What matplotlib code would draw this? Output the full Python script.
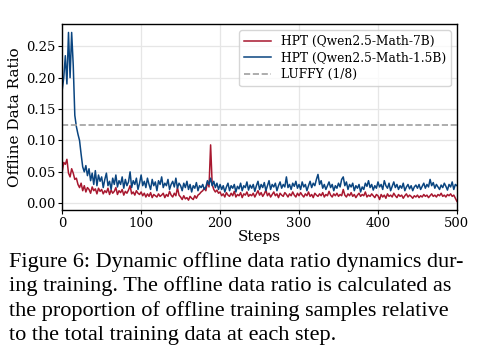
import numpy as np
import matplotlib.pyplot as plt

# offline data ratio, read every 2 steps (0..500)
steps = np.arange(0, 501, 2)

ratio_15b = [
    0.180, 0.200, 0.235, 0.190, 0.272, 0.200, 0.272, 0.220, 0.140, 0.122, 0.110, 0.100, 0.078,
    0.058, 0.050, 0.060, 0.044, 0.055, 0.036, 0.048, 0.030, 0.052, 0.028, 0.045, 0.035,
    0.042, 0.025, 0.038, 0.048, 0.028, 0.035, 0.022, 0.040, 0.030, 0.045, 0.026, 0.036, 0.030,
    0.042, 0.024, 0.038, 0.028, 0.034, 0.050, 0.025, 0.036, 0.030, 0.040, 0.022, 0.032,
    0.045, 0.028, 0.035, 0.025, 0.040, 0.030, 0.022, 0.038, 0.028, 0.034, 0.020, 0.036, 0.030,
    0.042, 0.025, 0.032, 0.028, 0.038, 0.022, 0.030, 0.035, 0.026, 0.040, 0.024, 0.032,
    0.028, 0.020, 0.032, 0.025, 0.035, 0.022, 0.030, 0.018, 0.028, 0.024, 0.033, 0.020, 0.028,
    0.025, 0.030, 0.022, 0.026, 0.036, 0.030, 0.040, 0.028, 0.035, 0.025, 0.032, 0.022,
    0.030, 0.022, 0.028, 0.018, 0.026, 0.032, 0.020, 0.028, 0.024, 0.030, 0.018, 0.027, 0.023,
    0.032, 0.020, 0.028, 0.025, 0.034, 0.021, 0.029, 0.024, 0.030, 0.019, 0.028, 0.035,
    0.022, 0.030, 0.025, 0.033, 0.020, 0.028, 0.036, 0.022, 0.030, 0.026, 0.032, 0.020, 0.028,
    0.034, 0.024, 0.030, 0.026, 0.042, 0.025, 0.030, 0.022, 0.032, 0.027, 0.035, 0.024,
    0.030, 0.022, 0.034, 0.026, 0.030, 0.020, 0.028, 0.035, 0.025, 0.032, 0.028, 0.038, 0.046,
    0.030, 0.036, 0.024, 0.030, 0.022, 0.028, 0.034, 0.025, 0.030, 0.020, 0.028, 0.024,
    0.032, 0.026, 0.038, 0.042, 0.028, 0.034, 0.022, 0.030, 0.026, 0.032, 0.020, 0.028, 0.024,
    0.030, 0.018, 0.026, 0.022, 0.032, 0.027, 0.036, 0.025, 0.030, 0.021, 0.028, 0.024,
    0.034, 0.026, 0.030, 0.022, 0.036, 0.028, 0.024, 0.032, 0.020, 0.027, 0.034, 0.025, 0.030,
    0.022, 0.028, 0.024, 0.032, 0.020, 0.026, 0.030, 0.023, 0.028, 0.020, 0.026, 0.029,
    0.024, 0.030, 0.022, 0.027, 0.032, 0.024, 0.030, 0.026, 0.038, 0.028, 0.033, 0.024, 0.030,
    0.026, 0.022, 0.029, 0.025, 0.032, 0.027, 0.021, 0.030, 0.026, 0.034, 0.022, 0.030, 0.028,
]

ratio_7b = [
    0.050, 0.065, 0.062, 0.070, 0.048, 0.042, 0.055, 0.048, 0.038, 0.040, 0.030, 0.025, 0.032,
    0.020, 0.028, 0.018, 0.025, 0.022, 0.016, 0.026, 0.020, 0.023, 0.015, 0.024, 0.019,
    0.022, 0.015, 0.020, 0.017, 0.024, 0.014, 0.021, 0.016, 0.019, 0.025, 0.014, 0.020, 0.017,
    0.022, 0.013, 0.019, 0.016, 0.021, 0.028, 0.015, 0.018, 0.013, 0.020, 0.016, 0.014,
    0.018, 0.012, 0.016, 0.010, 0.015, 0.011, 0.017, 0.009, 0.014, 0.012, 0.010, 0.015, 0.011,
    0.013, 0.016, 0.009, 0.014, 0.011, 0.019, 0.013, 0.010, 0.016, 0.012, 0.025, 0.013,
    0.010, 0.006, 0.012, 0.007, 0.009, 0.005, 0.011, 0.008, 0.006, 0.012, 0.008, 0.013, 0.015,
    0.018, 0.020, 0.024, 0.020, 0.034, 0.026, 0.093, 0.030, 0.022, 0.018, 0.021, 0.016,
    0.018, 0.012, 0.015, 0.010, 0.017, 0.013, 0.011, 0.016, 0.012, 0.019, 0.010, 0.014, 0.012,
    0.017, 0.009, 0.015, 0.013, 0.018, 0.011, 0.014, 0.012, 0.016, 0.010, 0.015, 0.020,
    0.013, 0.017, 0.011, 0.015, 0.021, 0.012, 0.016, 0.010, 0.014, 0.018, 0.012, 0.015, 0.009,
    0.016, 0.013, 0.011, 0.017, 0.014, 0.010, 0.015, 0.012, 0.018, 0.013, 0.010, 0.016,
    0.012, 0.017, 0.013, 0.010, 0.015, 0.012, 0.018, 0.011, 0.014, 0.009, 0.016, 0.013, 0.011,
    0.015, 0.012, 0.017, 0.010, 0.014, 0.012, 0.019, 0.013, 0.010, 0.015, 0.012, 0.016,
    0.011, 0.014, 0.012, 0.022, 0.013, 0.010, 0.015, 0.012, 0.017, 0.011, 0.014, 0.009, 0.013,
    0.016, 0.011, 0.014, 0.012, 0.018, 0.010, 0.013, 0.011, 0.015, 0.012, 0.009, 0.014,
    0.012, 0.006, 0.014, 0.010, 0.013, 0.008, 0.015, 0.011, 0.013, 0.010, 0.016, 0.012, 0.009,
    0.014, 0.011, 0.013, 0.008, 0.012, 0.015, 0.010, 0.013, 0.011, 0.008, 0.012, 0.010,
    0.013, 0.009, 0.012, 0.010, 0.014, 0.011, 0.013, 0.009, 0.012, 0.015, 0.011, 0.013, 0.010,
    0.014, 0.012, 0.016, 0.011, 0.013, 0.010, 0.014, 0.012, 0.015, 0.011, 0.013, 0.008, 0.003,
]

luffy_ratio = 1 / 8

caption = ["Figure 6: Dynamic offline data ratio dynamics dur-",
           "ing training. The offline data ratio is calculated as",
           "the proportion of offline training samples relative",
           "to the total training data at each step."]

plt.rcParams['font.family'] = 'DejaVu Serif'

fig = plt.figure(figsize=(4.82, 3.48), dpi=100)
ax = fig.add_axes([0.129, 0.397, 0.819, 0.534])

ax.plot(steps, ratio_7b, color="#a8182f", lw=1.1, label="HPT (Qwen2.5-Math-7B)")
ax.plot(steps, ratio_15b, color="#0a4580", lw=1.1, label="HPT (Qwen2.5-Math-1.5B)")
ax.axhline(luffy_ratio, color="#a0a0a0", lw=1.2, ls="--", label="LUFFY (1/8)")

ax.set_xlim(0, 500)
ax.set_xticks([0, 100, 200, 300, 400, 500])
ax.set_yticks([0.0, 0.05, 0.10, 0.15, 0.20, 0.25])
ax.set_yticklabels(["0.00", "0.05", "0.10", "0.15", "0.20", "0.25"])
ax.grid(color="#e6e6e6", lw=0.9)
ax.set_axisbelow(True)
ax.tick_params(labelsize=9.5, length=3, pad=2)
ax.set_xlabel("Steps", fontsize=11, labelpad=0)
ax.set_ylabel("Offline Data Ratio", fontsize=11, labelpad=3)
for s in ax.spines.values():
    s.set_linewidth(1.0)

ax.legend(loc="upper right", fontsize=8.8, frameon=True, edgecolor="#cccccc",
          handlelength=2.2, borderpad=0.4, labelspacing=0.3)

for i, line in enumerate(caption):
    fig.text(0.018, 1 - (262 + 24.5 * i) / 348, line, fontsize=16,
             family="Liberation Serif", va="center", ha="left")

fig.savefig("out.png", dpi=100)
